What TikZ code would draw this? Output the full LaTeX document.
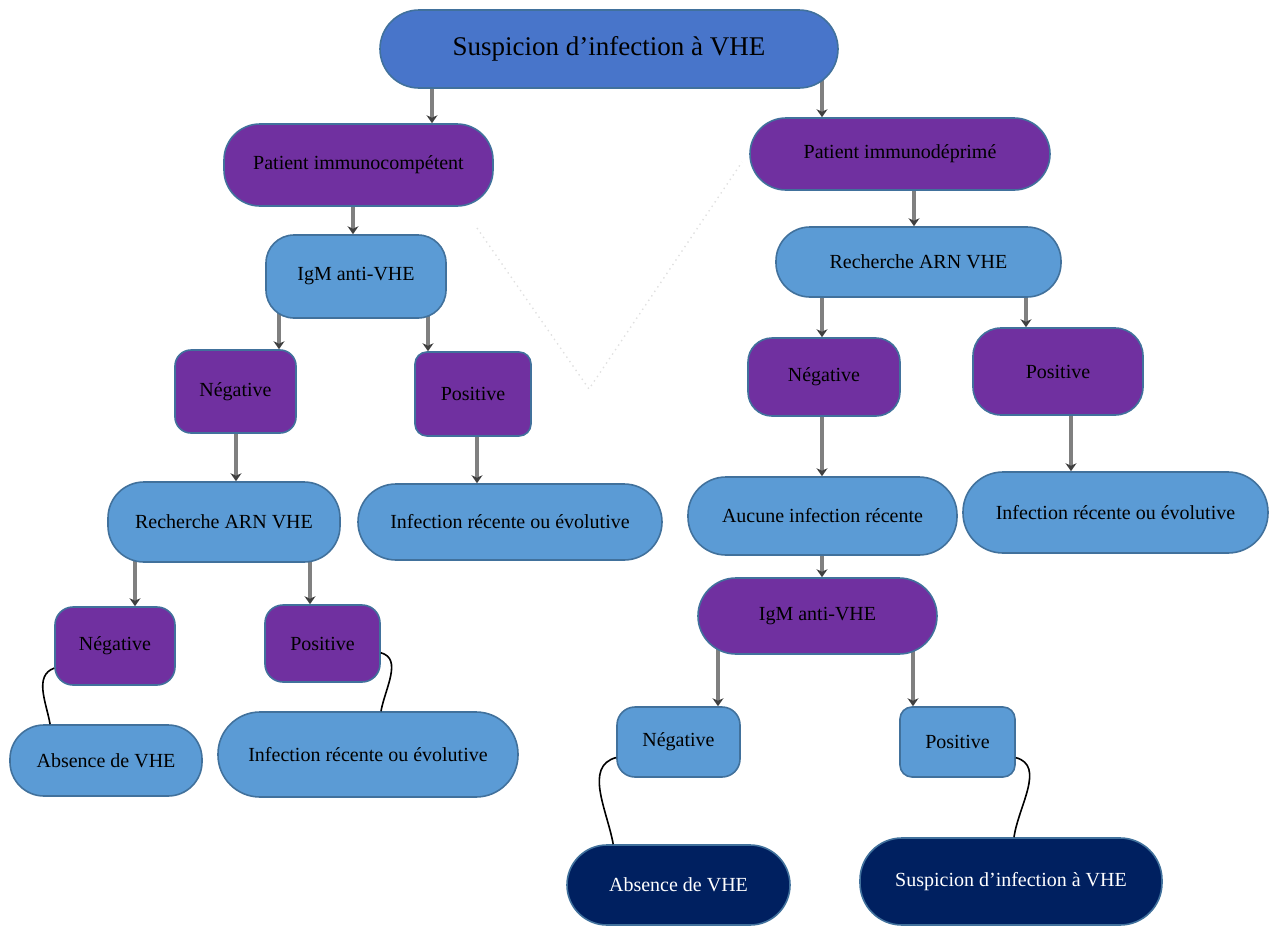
\documentclass[tikz,border=0pt]{standalone}
\usepackage{fontspec}
\setmainfont{Liberation Serif}
\usetikzlibrary{arrows.meta,backgrounds}
\definecolor{vhetop}{RGB}{72,117,202}
\definecolor{vhepurple}{RGB}{112,48,160}
\definecolor{vhelight}{RGB}{91,155,213}
\definecolor{vhenavy}{RGB}{0,32,96}
\definecolor{vheline}{RGB}{65,113,156}

\begin{document}
\begin{tikzpicture}[x=0.5pt,y=-0.5pt,
    box/.style={draw=vheline, line width=0.8pt, inner sep=2pt, text=black,
        font=\fontsize{10}{12}\selectfont},
    sz/.style 2 args={minimum width=#1*0.5pt, minimum height=#2*0.5pt},
    topbox/.style={box, fill=vhetop, rounded corners=19.5pt, font=\fontsize{13.5}{16}\selectfont},
    purplebox/.style={box, fill=vhepurple},
    lightbox/.style={box, fill=vhelight},
    navybox/.style={box, fill=vhenavy, text=white},
    arr/.style={draw=black!50, line width=1.8pt, -{Stealth[length=4pt,width=5.5pt,color=black!75]}},
    link/.style={draw=black, line width=0.8pt},
    faint/.style={draw=black!12, dotted, line width=0.7pt}]
    \useasboundingbox (0,0) rectangle (1271,927);
    \node [topbox, sz={458}{78}] (top) at (609,49) {Suspicion d’infection à VHE};
    \node [purplebox, sz={269}{82}, rounded corners=18pt] (pic) at (358.5,165) {Patient immunocompétent};
    \node [purplebox, sz={300}{72}, rounded corners=18pt] (pid) at (900,154) {Patient immunodéprimé};
    \node [lightbox, sz={180}{83}, rounded corners=14pt] (igml) at (356,276.5) {IgM anti-VHE};
    \node [lightbox, sz={285}{70}, rounded corners=17pt] (arnr) at (918.5,262) {Recherche ARN VHE};
    \node [purplebox, sz={121}{83}, rounded corners=8pt] (negl) at (235.5,391.5) {Négative};
    \node [purplebox, sz={116}{84}, rounded corners=6pt] (posl) at (473,394) {Positive};
    \node [purplebox, sz={152}{78}, rounded corners=12pt] (negr) at (824,377) {Négative};
    \node [purplebox, sz={170}{87}, rounded corners=14pt] (posr) at (1058,371.5) {Positive};
    \node [lightbox, sz={232}{80}, rounded corners=18pt] (arnl) at (224,522) {Recherche ARN VHE};
    \node [lightbox, sz={304}{76}, rounded corners=19pt] (infl) at (510,522) {Infection récente ou évolutive};
    \node [lightbox, sz={269}{78}, rounded corners=19pt] (auc) at (822.5,516) {Aucune infection récente};
    \node [lightbox, sz={305}{81}, rounded corners=20pt] (infr) at (1115.5,512.5) {Infection récente ou évolutive};
    \node [purplebox, sz={239}{76}, rounded corners=19pt] (igmr) at (817.5,616) {IgM anti-VHE};
    \node [purplebox, sz={120}{78}, rounded corners=9pt] (negl2) at (115,646) {Négative};
    \node [purplebox, sz={115}{77}, rounded corners=9pt] (posl2) at (322.5,643.5) {Positive};
    \node [lightbox, sz={192}{71}, rounded corners=17pt] (absl) at (106,760.5) {Absence de VHE};
    \node [lightbox, sz={300}{85}, rounded corners=21pt] (infb) at (368,754.5) {Infection récente ou évolutive};
    \node [lightbox, sz={123}{70}, rounded corners=9pt] (negr2) at (678.5,742) {Négative};
    \node [lightbox, sz={115}{70}, rounded corners=6pt] (posr2) at (957.5,742) {Positive};
    \node [navybox, sz={223}{80}, rounded corners=20pt] (absn) at (678.5,885) {Absence de VHE};
    \node [navybox, sz={302}{87}, rounded corners=21pt] (susn) at (1011,881.5) {Suspicion d’infection à VHE};
    \begin{scope}[on background layer]
        \draw [arr] (top -| 432,0) -- (pic.north -| 432,0);
        \draw [arr] (top -| 822,0) -- (pid.north -| 822,0);
        \draw [arr] (pic -| 353,0) -- (igml.north -| 353,0);
        \draw [arr] (pid -| 914,0) -- (arnr.north -| 914,0);
        \draw [arr] (igml -| 279,0) -- (negl.north -| 279,0);
        \draw [arr] (igml -| 428,0) -- (posl.north -| 428,0);
        \draw [arr] (negl -| 236,0) -- (arnl.north -| 236,0);
        \draw [arr] (posl -| 477,0) -- (infl.north -| 477,0);
        \draw [arr] (arnr -| 822,0) -- (negr.north -| 822,0);
        \draw [arr] (arnr -| 1026,0) -- (posr.north -| 1026,0);
        \draw [arr] (negr -| 822,0) -- (auc.north -| 822,0);
        \draw [arr] (posr -| 1071,0) -- (infr.north -| 1071,0);
        \draw [arr] (auc -| 822,0) -- (igmr.north -| 822,0);
        \draw [arr] (arnl -| 135,0) -- (negl2.north -| 135,0);
        \draw [arr] (arnl -| 310,0) -- (posl2.north -| 310,0);
        \draw [arr] (igmr -| 718,0) -- (negr2.north -| 718,0);
        \draw [arr] (igmr -| 913,0) -- (posr2.north -| 913,0);
    \end{scope}
    \draw [link] (negl2.200) to[out=200,in=100] (absl.147);
    \draw [link] (posl2.351) to[out=-15,in=80] ([xshift=6.5pt]infb.north);
    \draw [link] (negr2.194) to[out=195,in=100] (absn.148);
    \draw [link] (posr2.345) to[out=-15,in=82] ([xshift=1.5pt]susn.north);
    \draw [faint] (477,228) -- (589,389) -- (742,162);
\end{tikzpicture}
\end{document}
